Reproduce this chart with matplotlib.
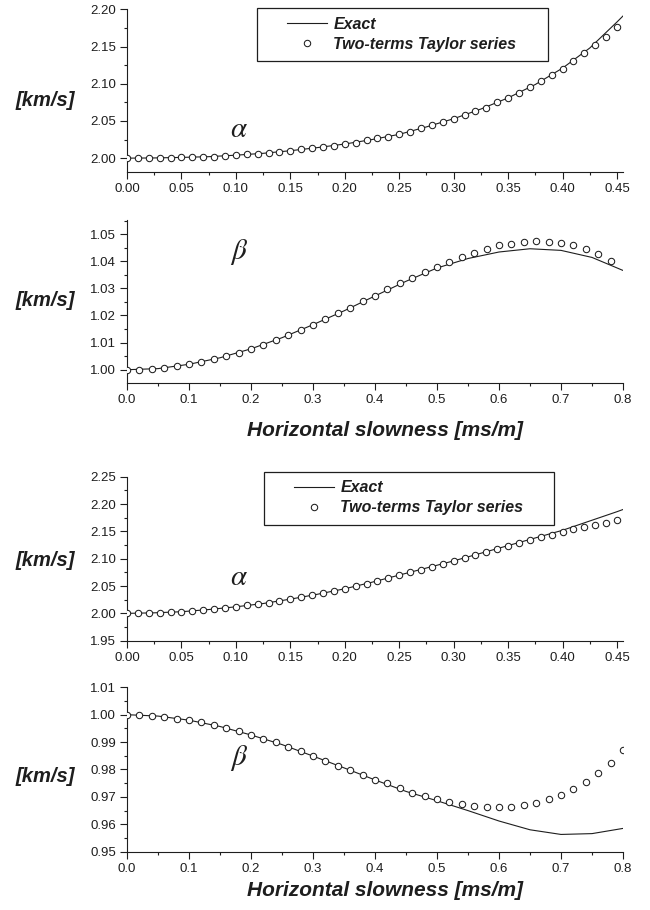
import matplotlib
matplotlib.use("Agg")
from matplotlib import pyplot as plt
from matplotlib.patches import Rectangle
from matplotlib.ticker import MultipleLocator
import numpy as np

# values

# case 1, alpha
a1_x = np.linspace(0, 0.45, 46)
a1_taylor = [2.000, 2.000, 2.000, 2.000, 2.0005, 2.001, 2.001, 2.002, 2.002, 2.003,
             2.004, 2.005, 2.006, 2.007, 2.0085, 2.010, 2.012, 2.0135, 2.015, 2.017,
             2.019, 2.021, 2.024, 2.0265, 2.029, 2.032, 2.0355, 2.040, 2.044, 2.048,
             2.053, 2.058, 2.063, 2.068, 2.075, 2.081, 2.087, 2.095, 2.103, 2.112,
             2.120, 2.130, 2.141, 2.152, 2.163, 2.176]
a1_ex_x = [0, 0.025, 0.05, 0.075, 0.10, 0.125, 0.15, 0.175, 0.20, 0.225, 0.25, 0.275,
           0.30, 0.325, 0.35, 0.375, 0.40, 0.425, 0.45, 0.4555]
a1_exact = [2.000, 2.0003, 2.001, 2.002, 2.004, 2.0065, 2.010, 2.0142, 2.019, 2.025,
            2.032, 2.042, 2.053, 2.066, 2.081, 2.099, 2.121, 2.148, 2.183, 2.191]

# case 1, beta
b1_x = np.linspace(0, 0.78, 40)
b1_taylor = [1.0000, 1.0000, 1.0002, 1.0006, 1.0012, 1.0020, 1.0028, 1.0038, 1.0050, 1.0061,
             1.0077, 1.0092, 1.0109, 1.0128, 1.0147, 1.0166, 1.0187, 1.0208, 1.0228, 1.0252,
             1.0273, 1.0296, 1.0318, 1.0339, 1.0361, 1.0380, 1.0398, 1.0416, 1.0432, 1.0446,
             1.0458, 1.0465, 1.0470, 1.0473, 1.0472, 1.0468, 1.0459, 1.0446, 1.0428, 1.0402]
b1_ex_x = [0, 0.05, 0.10, 0.15, 0.20, 0.25, 0.30, 0.35, 0.40, 0.45, 0.50, 0.55, 0.60,
           0.65, 0.70, 0.75, 0.80]
b1_exact = [1.0000, 1.0004, 1.0020, 1.0044, 1.0077, 1.0118, 1.0166, 1.0217, 1.0272, 1.0326,
            1.0375, 1.0410, 1.0434, 1.0446, 1.0440, 1.0414, 1.0366]

# case 2, alpha
a2_x = np.linspace(0, 0.45, 46)
a2_taylor = [2.000, 2.000, 2.000, 2.0006, 2.002, 2.003, 2.004, 2.006, 2.008, 2.010,
             2.012, 2.0147, 2.017, 2.0196, 2.0226, 2.026, 2.030, 2.033, 2.037, 2.041,
             2.045, 2.0495, 2.054, 2.059, 2.064, 2.070, 2.075, 2.080, 2.085, 2.090,
             2.096, 2.101, 2.107, 2.112, 2.117, 2.124, 2.129, 2.134, 2.139, 2.144,
             2.149, 2.154, 2.158, 2.162, 2.1655, 2.170]
a2_ex_x = [0, 0.025, 0.05, 0.075, 0.10, 0.125, 0.15, 0.175, 0.20, 0.225, 0.25, 0.275,
           0.30, 0.325, 0.35, 0.375, 0.40, 0.425, 0.45, 0.4555]
a2_exact = [2.000, 2.001, 2.003, 2.007, 2.012, 2.018, 2.026, 2.035, 2.045, 2.057,
            2.070, 2.083, 2.096, 2.110, 2.124, 2.138, 2.152, 2.169, 2.186, 2.190]

# case 2, beta
b2_x = np.linspace(0, 0.80, 41)
b2_taylor = [1.0000, 0.9999, 0.9997, 0.9992, 0.9986, 0.9980, 0.9972, 0.9963, 0.9951, 0.9939,
             0.9926, 0.9913, 0.9899, 0.9883, 0.9866, 0.9849, 0.9832, 0.9814, 0.9797, 0.9780,
             0.9763, 0.9749, 0.9734, 0.9715, 0.9702, 0.9692, 0.9681, 0.9673, 0.9667, 0.9663,
             0.9663, 0.9664, 0.9669, 0.9678, 0.9691, 0.9707, 0.9729, 0.9755, 0.9787, 0.9825,
             0.9870]
b2_ex_x = [0, 0.05, 0.10, 0.15, 0.20, 0.25, 0.30, 0.35, 0.40, 0.45, 0.50, 0.55, 0.60,
           0.65, 0.70, 0.75, 0.80]
b2_exact = [1.0000, 0.9995, 0.9980, 0.9957, 0.9926, 0.9891, 0.9849, 0.9806, 0.9762, 0.9720,
            0.9686, 0.9650, 0.9612, 0.9580, 0.9563, 0.9566, 0.9585]

ink = "#1e1e1e"
W, H = 650, 910


def px_rect(x0, y0, x1, y1):
    return [x0 / W, 1 - y1 / H, (x1 - x0) / W, (y1 - y0) / H]


fig = plt.figure(figsize=(6.5, 9.1), dpi=100)
plt.rcParams["font.family"] = ["Liberation Sans", "DejaVu Sans"]

panels = [
    (px_rect(127, 9.3, 623, 172.3), a1_x, a1_taylor, a1_ex_x, a1_exact,
     (0, 0.4555), (1.981, 2.20), 0.05, 0.025, 0.05, 0.025, "%.2f", "%.2f",
     r"$\alpha$", (0.103, 2.028), 100),
    (px_rect(127, 220, 623, 383), b1_x, b1_taylor, b1_ex_x, b1_exact,
     (0, 0.8), (0.9951, 1.0552), 0.1, 0.05, 0.01, 0.005, "%.1f", "%.2f",
     r"$\beta$", (0.18, 1.041), 300),
    (px_rect(127, 476.7, 623, 640.7), a2_x, a2_taylor, a2_ex_x, a2_exact,
     (0, 0.4555), (1.95, 2.25), 0.05, 0.025, 0.05, 0.025, "%.2f", "%.2f",
     r"$\alpha$", (0.103, 2.051), 561),
    (px_rect(127, 687.3, 623, 851.7), b2_x, b2_taylor, b2_ex_x, b2_exact,
     (0, 0.8), (0.95, 1.01), 0.1, 0.05, 0.01, 0.005, "%.1f", "%.2f",
     r"$\beta$", (0.18, 0.9818), 776),
]

axes = []
for (rect, tx, ty, ex, ey, xl, yl, xmaj, xmin, ymaj, ymin, xfmt, yfmt,
     greek, gpos, ylab_y) in panels:
    ax = fig.add_axes(rect)
    ax.plot(ex, ey, color=ink, lw=0.8, label="Exact", zorder=2)
    ax.plot(tx, ty, ls="none", marker="o", ms=4.6, mfc="white", mec=ink, mew=0.75,
            label="Two-terms Taylor series", zorder=3)
    ax.set_xlim(*xl)
    ax.set_ylim(*yl)
    ax.xaxis.set_major_locator(MultipleLocator(xmaj))
    ax.xaxis.set_minor_locator(MultipleLocator(xmin))
    ax.yaxis.set_major_locator(MultipleLocator(ymaj))
    ax.yaxis.set_minor_locator(MultipleLocator(ymin))
    ax.xaxis.set_major_formatter(plt.FormatStrFormatter(xfmt))
    ax.yaxis.set_major_formatter(plt.FormatStrFormatter(yfmt))
    for s in ["top", "right"]:
        ax.spines[s].set_visible(False)
    for s in ["left", "bottom"]:
        ax.spines[s].set_linewidth(0.8)
        ax.spines[s].set_color(ink)
    ax.tick_params(which="major", direction="out", length=5, width=0.8, color=ink,
                   labelsize=9.5, labelcolor=ink, pad=3)
    ax.tick_params(which="minor", direction="out", length=2.5, width=0.8, color=ink)
    ax.text(gpos[0], gpos[1], greek, fontsize=21, color=ink, va="baseline", ha="center",
            math_fontfamily="stix")
    fig.text(45 / W, 1 - ylab_y / H, "[km/s]", fontsize=14.5, fontweight="bold",
             fontstyle="italic", color=ink, ha="center", va="center")
    axes.append(ax)

# x labels under the beta panels
axes[1].text(0.52, -47 / 163, "Horizontal slowness [ms/m]", transform=axes[1].transAxes,
             fontsize=15, fontweight="bold", fontstyle="italic", color=ink,
             ha="center", va="center")
axes[3].text(0.52, -39 / 164.4, "Horizontal slowness [ms/m]", transform=axes[3].transAxes,
             fontsize=15, fontweight="bold", fontstyle="italic", color=ink,
             ha="center", va="center")

# legends in the alpha panels: frameless legend plus a drawn box
legend_boxes = [(axes[0], 287, 17, (257, 8, 548, 61)),
                (axes[2], 294, 480.5, (264, 472.4, 554, 525.3))]
for ax, hx, hy, (bx0, by0, bx1, by1) in legend_boxes:
    leg = ax.legend(loc="upper left", bbox_to_anchor=(hx / W, 1 - hy / H),
                    bbox_transform=fig.transFigure, frameon=False, handlelength=2.5,
                    handletextpad=0.4, borderpad=0, borderaxespad=0, labelspacing=0.3,
                    prop={"size": 11.5, "weight": "bold", "style": "italic"})
    for t in leg.get_texts():
        t.set_color(ink)
    fig.patches.append(Rectangle((bx0 / W, 1 - by1 / H), (bx1 - bx0) / W, (by1 - by0) / H,
                                 transform=fig.transFigure, fill=False, lw=0.9,
                                 edgecolor=ink, zorder=5))

fig.savefig("out.png", dpi=100)
